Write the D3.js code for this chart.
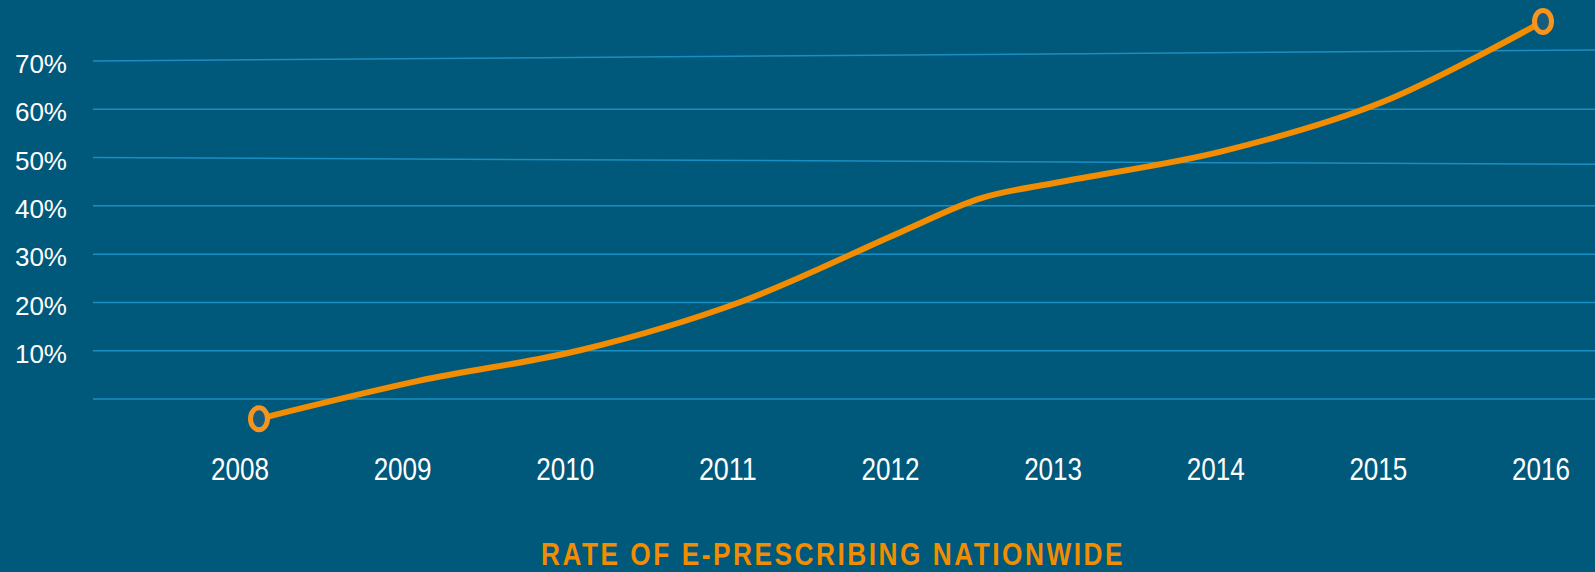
<!DOCTYPE html>
<html>
<head>
<meta charset="utf-8">
<script src="https://cdn.jsdelivr.net/npm/d3@7"></script>
<style>
  body { margin: 0; background: #00587a; }
  svg { display: block; }
</style>
</head>
<body>
<div id="chart"></div>
<script>
// values
const years = [2008, 2009, 2010, 2011, 2012, 2013, 2014, 2015, 2016];
// the line is sampled once a year, plus one mid-2012 reading where it bends
const lineYears = [2008, 2009, 2010, 2011, 2012, 2012.5, 2013, 2014, 2015, 2016];
const rates = [-4.1, 3.8, 10.1, 20.1, 34.6, 41.6, 45.0, 51.3, 61.5, 78.2];
const yTicks = [10, 20, 30, 40, 50, 60, 70];
const gridValues = [0, 10, 20, 30, 40, 50, 60, 70];
// the gridlines are not quite level: value reached at the right edge
const gridRight = [0, 10, 20, 30, 40, 48.6, 60, 72.3];
const title = "RATE OF E-PRESCRIBING NATIONWIDE";

const width = 1595, height = 572;
const orange = "#f28c00";

const svg = d3.select("#chart")
    .append("svg")
    .attr("width", width)
    .attr("height", height);

const y = d3.scaleLinear()
    .domain([0, 70])
    .range([399, 61]);

// year labels and the line sit on slightly different spans
const xLabel = d3.scaleLinear()
    .domain([2008, 2016])
    .range([240, 1541]);

const xLine = d3.scaleLinear()
    .domain([2008, 2016])
    .range([259, 1543]);

svg.append("g")
    .selectAll("line")
    .data(gridValues)
    .enter()
    .append("line")
    .attr("x1", 93)
    .attr("x2", width)
    .attr("y1", d => y(d))
    .attr("y2", (d, i) => y(gridRight[i]))
    .attr("stroke", "#1c8fc2")
    .attr("stroke-width", 1.5);

svg.append("g")
    .selectAll("text")
    .data(yTicks)
    .enter()
    .append("text")
    .attr("x", 67)
    .attr("y", d => y(d) + 3)
    .attr("dy", "0.35em")
    .attr("text-anchor", "end")
    .attr("fill", "#ffffff")
    .attr("font-family", "Liberation Sans, Arial, sans-serif")
    .attr("font-size", "26px")
    .text(d => d + "%");

svg.append("g")
    .selectAll("text")
    .data(years)
    .enter()
    .append("text")
    .attr("x", d => xLabel(d))
    .attr("y", 480)
    .attr("text-anchor", "middle")
    .attr("fill", "#ffffff")
    .attr("font-family", "Liberation Sans, Arial, sans-serif")
    .attr("font-size", "31px")
    .attr("textLength", 58)
    .attr("lengthAdjust", "spacingAndGlyphs")
    .text(d => d);

const line = d3.line()
    .x((d, i) => xLine(lineYears[i]))
    .y(d => y(d))
    .curve(d3.curveCatmullRom);

svg.append("path")
    .datum(rates)
    .attr("d", line)
    .attr("fill", "none")
    .attr("stroke", orange)
    .attr("stroke-width", 6)
    .attr("stroke-linecap", "round");

const ends = [0, rates.length - 1];

svg.selectAll("ellipse")
    .data(ends)
    .enter()
    .append("ellipse")
    .attr("cx", i => xLine(lineYears[i]))
    .attr("cy", i => y(rates[i]))
    .attr("rx", 8.5)
    .attr("ry", 11)
    .attr("fill", "#155c7f")
    .attr("stroke", "#f7941d")
    .attr("stroke-width", 5);

svg.append("text")
    .attr("x", 833)
    .attr("y", 565)
    .attr("text-anchor", "middle")
    .attr("fill", orange)
    .attr("font-family", "Liberation Sans Narrow, Liberation Sans, Arial, sans-serif")
    .attr("font-weight", "bold")
    .attr("font-size", "31px")
    .attr("letter-spacing", "3px")
    .attr("textLength", 584)
    .attr("lengthAdjust", "spacingAndGlyphs")
    .text(title);
</script>
</body>
</html>
